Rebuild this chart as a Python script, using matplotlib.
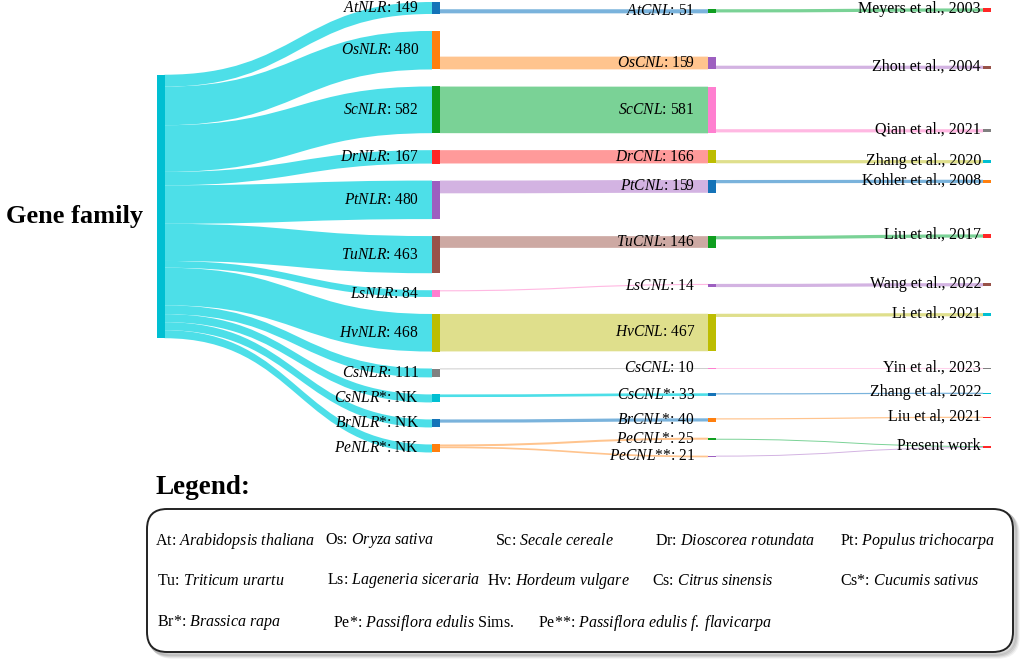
import matplotlib
matplotlib.use('Agg')
import matplotlib.pyplot as plt
from matplotlib.path import Path
from matplotlib.patches import PathPatch, Rectangle, FancyBboxPatch

plt.rcParams['font.family'] = ['Liberation Serif', 'DejaVu Serif']
plt.rcParams['mathtext.fontset'] = 'custom'
plt.rcParams['mathtext.rm'] = 'Liberation Serif'
plt.rcParams['mathtext.it'] = 'Liberation Serif:italic'
plt.rcParams['mathtext.bf'] = 'Liberation Serif:bold'

# ---------------- data ----------------
source_label = 'Gene family'

nlr_names = ['AtNLR', 'OsNLR', 'ScNLR', 'DrNLR', 'PtNLR', 'TuNLR', 'LsNLR',
             'HvNLR', 'CsNLR', 'CsNLR*', 'BrNLR*', 'PeNLR*']
nlr_counts = [149, 480, 582, 167, 480, 463, 84, 468, 111, None, None, None]  # None = NK
nlr_flow = [149, 480, 582, 167, 480, 463, 84, 468, 111, 100, 100, 100]      # link values drawn

cnl_names = ['AtCNL', 'OsCNL', 'ScCNL', 'DrCNL', 'PtCNL', 'TuCNL', 'LsCNL',
             'HvCNL', 'CsCNL', 'CsCNL*', 'BrCNL*', 'PeCNL*', 'PeCNL**']
cnl_counts = [51, 159, 581, 166, 159, 146, 14, 467, 10, 33, 40, 25, 21]
cnl_parent = [0, 1, 2, 3, 4, 5, 6, 7, 8, 9, 10, 11, 11]

ref_names = ['Meyers et al., 2003', 'Zhou et al., 2004', 'Qian et al., 2021',
             'Zhang et al., 2020', 'Kohler et al., 2008', 'Liu et al., 2017',
             'Wang et al., 2022', 'Li et al., 2021', 'Yin et al., 2023',
             'Zhang et al, 2022', 'Liu et al, 2021', 'Present work']
cnl_ref = [0, 1, 2, 3, 4, 5, 6, 7, 8, 9, 10, 11, 11]
ref_flow = [40, 40, 40, 40, 40, 40, 40, 40, 8, 15, 15, 12, 12]

legend_abbr = ['At', 'Os', 'Sc', 'Dr', 'Pt', 'Tu', 'Ls', 'Hv', 'Cs', 'Cs*',
               'Br*', 'Pe*', 'Pe**']
legend_species = ['Arabidopsis thaliana', 'Oryza sativa', 'Secale cereale',
                  'Dioscorea rotundata', 'Populus trichocarpa', 'Triticum urartu',
                  'Lageneria siceraria', 'Hordeum vulgare', 'Citrus sinensis',
                  'Cucumis sativus', 'Brassica rapa', 'Passiflora edulis',
                  'Passiflora edulis f. flavicarpa']
legend_suffix = [''] * 11 + [' Sims.', '']

# ---------------- style / layout ----------------
palette = {'blue': '#1473b8', 'orange': '#ff7f0e', 'green': '#0f9e1f',
           'red': '#ff2626', 'purple': '#9d5fc0', 'brown': '#985249',
           'pink': '#ff7fd0', 'olive': '#bdbd00', 'grey': '#808080',
           'cyan': '#00bfd2'}
link_palette = {'blue': '#7ab3dc', 'orange': '#ffc48e', 'green': '#7ad296',
                'red': '#ff9a9a', 'purple': '#d3b3e2', 'brown': '#cda9a3',
                'pink': '#ffb8e2', 'olive': '#dfdf8c', 'grey': '#c2c2c2',
                'cyan': '#4ddfe8'}
source_color = 'cyan'
nlr_colors = ['blue', 'orange', 'green', 'red', 'purple', 'brown', 'pink',
              'olive', 'grey', 'cyan', 'blue', 'orange']
cnl_colors = ['green', 'purple', 'pink', 'olive', 'blue', 'green', 'purple',
              'olive', 'pink', 'blue', 'orange', 'green', 'purple']
ref_colors = ['red', 'brown', 'grey', 'cyan', 'orange', 'red', 'brown', 'cyan',
              'grey', 'cyan', 'red', 'red']

W, H = 1024, 660
col_x = [156.5, 432.0, 708.0, 983.0]
node_w = 8.0
dom_top, dom_bottom, pad = 2.0, 452.5, 17.0
# node centre positions (fixed arrangement, pixel rows) for columns 3 and 4
cnl_yc = [11.3, 63.0, 110.0, 156.7, 186.4, 242.0, 285.5, 332.5, 368.5,
          394.6, 419.9, 438.7, 456.5]
ref_yc = [10.0, 67.3, 130.8, 161.7, 181.3, 236.0, 284.7, 314.7, 368.3,
          393.3, 417.3, 447.0]

fs_node = 11.2
fs_ref = 11.5
fs_leg = 11.5

fig = plt.figure(figsize=(W / 100, H / 100), dpi=100)
ax = fig.add_axes([0, 0, 1, 1])
ax.set_xlim(0, W)
ax.set_ylim(H, 0)
ax.axis('off')

# ---------------- layout computation ----------------
n_nlr = len(nlr_names)
k = (dom_bottom - dom_top - pad * (n_nlr - 1)) / sum(nlr_flow)

nlr_out = [sum(c for c, p in zip(cnl_counts, cnl_parent) if p == i) for i in range(n_nlr)]
nlr_h = [max(a, b) * k for a, b in zip(nlr_flow, nlr_out)]
nlr_y0 = []
y = dom_top
for h in nlr_h:
    nlr_y0.append(y)
    y += h + pad
nlr_c = [y0 + h / 2 for y0, h in zip(nlr_y0, nlr_h)]

src_h = sum(nlr_flow) * k
src_c = sum(f * c for f, c in zip(nlr_flow, nlr_c)) / sum(nlr_flow)
src_y0 = src_c - src_h / 2

cnl_h = [max(a, b) * k for a, b in zip(cnl_counts, ref_flow)]
cnl_y0 = [c - h / 2 for c, h in zip(cnl_yc, cnl_h)]

ref_in = [sum(f for f, r in zip(ref_flow, cnl_ref) if r == i) for i in range(len(ref_names))]
ref_h = [v * k for v in ref_in]
ref_y0 = [c - h / 2 for c, h in zip(ref_yc, ref_h)]


def draw_link(x0, ya, x1, yb, w, color):
    xm = (x0 + x1) / 2
    verts = [(x0, ya), (xm, ya), (xm, yb), (x1, yb), (x1, yb + w),
             (xm, yb + w), (xm, ya + w), (x0, ya + w), (x0, ya)]
    codes = [Path.MOVETO, Path.CURVE4, Path.CURVE4, Path.CURVE4, Path.LINETO,
             Path.CURVE4, Path.CURVE4, Path.CURVE4, Path.CLOSEPOLY]
    ax.add_patch(PathPatch(Path(verts, codes), facecolor=color,
                           edgecolor='none', lw=0, zorder=1))


def clamp(v, lo, hi):
    return max(lo, min(v, hi))


# links: source -> NLR
y = src_y0
for i in range(n_nlr):
    w = nlr_flow[i] * k
    draw_link(col_x[0] + node_w, y, col_x[1], nlr_y0[i], w, link_palette[source_color])
    y += w

# links: NLR -> CNL
for i in range(n_nlr):
    kids = sorted([j for j, p in enumerate(cnl_parent) if p == i], key=lambda j: cnl_y0[j])
    if not kids:
        continue
    S = sum(cnl_counts[j] * k for j in kids)
    y = clamp(cnl_y0[kids[0]], nlr_y0[i], nlr_y0[i] + nlr_h[i] - S)
    for j in kids:
        w = cnl_counts[j] * k
        draw_link(col_x[1] + node_w, y, col_x[2], cnl_y0[j], w, link_palette[nlr_colors[i]])
        y += w

# links: CNL -> reference
ref_fill = list(ref_y0)
for j in sorted(range(len(cnl_names)), key=lambda j: cnl_y0[j]):
    r = cnl_ref[j]
    w = ref_flow[j] * k
    tgt = ref_fill[r]
    ref_fill[r] += w
    ys = clamp(tgt, cnl_y0[j], cnl_y0[j] + cnl_h[j] - w)
    draw_link(col_x[2] + node_w, ys, col_x[3], tgt, w, link_palette[cnl_colors[j]])

# nodes
ax.add_patch(Rectangle((col_x[0], src_y0), node_w, src_h, facecolor=palette[source_color],
                       edgecolor='none', zorder=3))
for i in range(n_nlr):
    ax.add_patch(Rectangle((col_x[1], nlr_y0[i]), node_w, nlr_h[i],
                           facecolor=palette[nlr_colors[i]], edgecolor='none', zorder=3))
for j in range(len(cnl_names)):
    ax.add_patch(Rectangle((col_x[2], cnl_y0[j]), node_w, cnl_h[j],
                           facecolor=palette[cnl_colors[j]], edgecolor='none', zorder=3))
for r in range(len(ref_names)):
    ax.add_patch(Rectangle((col_x[3], ref_y0[r]), node_w, max(ref_h[r], 1.0),
                           facecolor=palette[ref_colors[r]], edgecolor='none', zorder=3))


def it_label(name, value):
    base = name.rstrip('*')
    stars = name[len(base):]
    return r'$\mathit{' + base + '}$' + stars + ': ' + value


# labels
ax.text(col_x[0] - 13, src_c + 10, source_label, ha='right', va='center',
        fontsize=19, fontweight='bold', zorder=5)
for i in range(n_nlr):
    val = 'NK' if nlr_counts[i] is None else str(nlr_counts[i])
    ax.text(col_x[1] - 13, nlr_c[i], it_label(nlr_names[i], val), ha='right',
            va='center', fontsize=fs_node, zorder=5)
for j in range(len(cnl_names)):
    ax.text(col_x[2] - 13, cnl_yc[j], it_label(cnl_names[j], str(cnl_counts[j])),
            ha='right', va='center', fontsize=fs_node, zorder=5)
for r in range(len(ref_names)):
    ax.text(col_x[3] - 2, ref_yc[r] - 1, ref_names[r], ha='right', va='center',
            fontsize=fs_ref, zorder=5)

# ---------------- legend box ----------------
ax.text(155, 488, 'Legend:', ha='left', va='center', fontsize=19.5,
        fontweight='bold')
bx, by, bw, bh = 147, 509, 866, 143
for off, a in [(5, 0.10), (4, 0.15), (3, 0.2), (2, 0.25)]:
    ax.add_patch(FancyBboxPatch((bx + off, by + off), bw, bh,
                                boxstyle='round,pad=0,rounding_size=20',
                                facecolor='none', edgecolor='#808080', lw=2.5,
                                alpha=a, zorder=1))
ax.add_patch(FancyBboxPatch((bx, by), bw, bh, boxstyle='round,pad=0,rounding_size=20',
                            facecolor='white', edgecolor='#222222', lw=1.4, zorder=2))

legend_x = [155, 325, 495, 655, 840,
            157, 327, 487, 652, 840,
            157, 333, 538]
legend_row = [0, 0, 0, 0, 0, 1, 1, 1, 1, 1, 2, 2, 2]
row_y = [541, 581, 623]
for a, s, suf, x, rw in zip(legend_abbr, legend_species, legend_suffix, legend_x, legend_row):
    txt = a + ': ' + r'$\mathit{' + s.replace(' ', r'\ ') + '}$' + suf
    ax.text(x, row_y[rw], txt, ha='left', va='center', fontsize=fs_leg, zorder=5)

fig.savefig('out.png', dpi=100)
